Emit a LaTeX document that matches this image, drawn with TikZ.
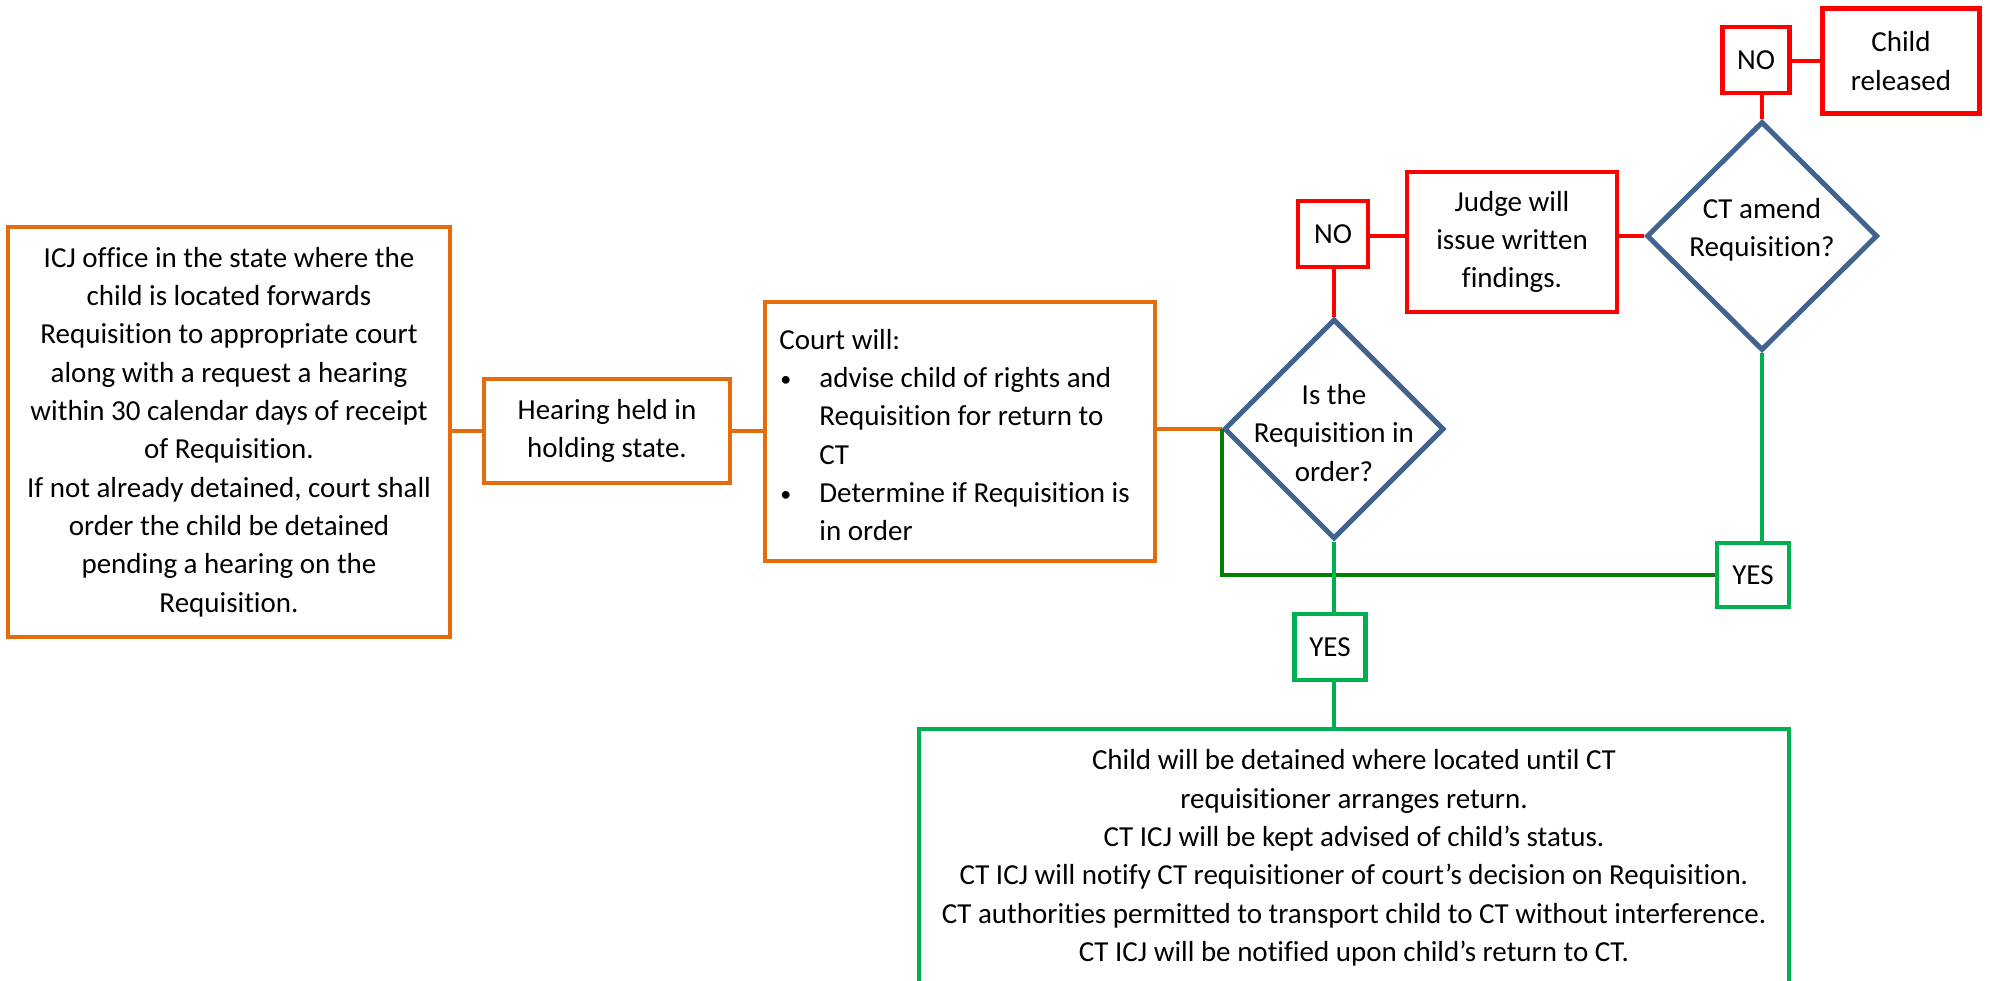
\documentclass[tikz,border=0pt]{standalone}
\usepackage{fontspec}
\setmainfont{Carlito}[Ligatures=NoCommon]
\usetikzlibrary{shapes.geometric}
\definecolor{orng}{HTML}{E46C0A}
\definecolor{redc}{HTML}{FF0000}
\definecolor{bluec}{HTML}{41638F}
\definecolor{lgreen}{HTML}{00B050}
\definecolor{dgreen}{HTML}{007F00}
\newcommand{\bul}{\hspace*{0.5pt}\makebox[19.5pt][l]{\raisebox{0.6pt}{\fontsize{11pt}{11pt}\selectfont •}}}
\begin{document}
\begin{tikzpicture}[x=0.5pt,y=-0.5pt,
 every node/.style={font=\fontsize{14.5pt}{19.15pt}\selectfont, inner sep=0pt, align=center},
 obox/.style={draw=orng, line width=2pt, rectangle},
 rbox/.style={draw=redc, line width=2.2pt, rectangle},
 gbox/.style={draw=lgreen, line width=2.2pt, rectangle},
 dia/.style={draw=bluec, line width=2.5pt, diamond, minimum width=110pt, minimum height=110pt},
 oline/.style={draw=orng, line width=1.8pt},
 rline/.style={draw=redc, line width=2pt},
 gline/.style={draw=lgreen, line width=1.8pt},
 dgline/.style={draw=dgreen, line width=2pt},
]
\clip (0,0) rectangle (1990,980);
\fill[white] (0,0) rectangle (1990,980);

% orange boxes
\node[obox, minimum width=221pt, minimum height=205pt] (b1) at (229,432)
 {ICJ office in the state where the\\child is located forwards\\Requisition to appropriate court\\along with a request a hearing\\within 30 calendar days of receipt\\of Requisition.\\If not already detained, court shall\\order the child be detained\\pending a hearing on the\\Requisition.};
\node[obox, minimum width=123pt, minimum height=52pt] (b2) at (607,431)
 {Hearing held in\\holding state.};
\node[obox, minimum width=195pt, minimum height=129.5pt] (b3) at (960,431.5) {};
\node[anchor=west, align=left] (b3t) at (779,435)
 {Court will:\\
  \bul advise child of rights and\\
  \hspace*{20pt}Requisition for return to\\
  \hspace*{20pt}CT\\
  \bul Determine if Requisition is\\
  \hspace*{20pt}in order};

% diamonds
\node[dia] (d1) at (1334,429) {};
\node (d1t) at (1334,433) {Is the\\Requisition in\\order?};
\node[dia, minimum width=115.5pt, minimum height=114.5pt] (d2) at (1762,236) {};
\node (d2t) at (1762,230) {CT amend\\Requisition?};

% red boxes
\node[rbox, minimum width=35pt, minimum height=33pt] (no1) at (1333,234) {NO};
\node[rbox, minimum width=105pt, minimum height=70pt] (judge) at (1512,242)
 {Judge will\\issue written\\findings.};
\node[rbox, minimum width=33.5pt, minimum height=33pt] (no2) at (1756,60) {NO};
\node[rbox, minimum width=78.5pt, minimum height=52.5pt] (child) at (1901,61)
 {Child\\released};

% green boxes
\node[gbox, minimum width=36pt, minimum height=32pt] (yes2) at (1753,575) {YES};
\node[gbox, minimum width=35.5pt, minimum height=33pt] (yes1) at (1330,647) {YES};
\node[gbox, minimum width=435pt, minimum height=129pt] (big) at (1354,858)
 {Child will be detained where located until CT\\requisitioner arranges return.\\CT ICJ will be kept advised of child’s status.\\CT ICJ will notify CT requisitioner of court’s decision on Requisition.\\CT authorities permitted to transport child to CT without interference.\\CT ICJ will be notified upon child’s return to CT.};

% connectors
\draw[oline] (b2.west -| b1.east) -- (b2.west);
\draw[oline] (b2.east) -- (b2.east -| b3.west);
\draw[oline] (d1.west -| b3.east) -- (d1.west);
\draw[rline] (d1.north) -- (d1.north |- no1.south);
\draw[rline] (d2.west -| no1.east) -- (d2.west -| judge.west);
\draw[rline] (d2.west -| judge.east) -- (d2.west);
\draw[rline] (d2.north) -- (d2.north |- no2.south);
\draw[rline] (child.west -| no2.east) -- (child.west);
\draw[dgline] (yes2.west) -| (d1.west);
\draw[gline] (d2.south) -- (d2.south |- yes2.north);
\draw[gline] (d1.south) -- (d1.south |- yes1.north);
\draw[gline] (d1.south |- yes1.south) -- (d1.south |- big.north);
\end{tikzpicture}
\end{document}
